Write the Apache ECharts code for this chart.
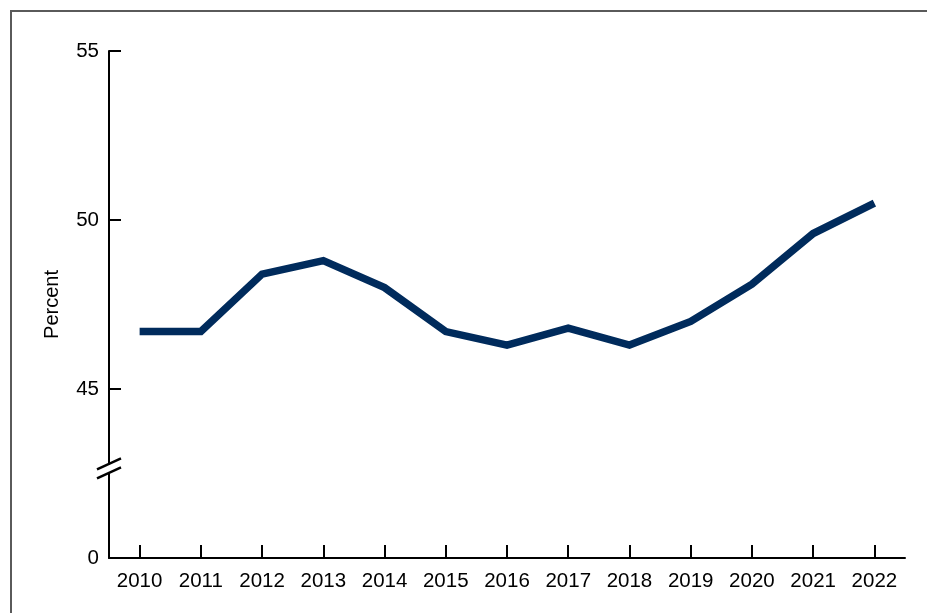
<!DOCTYPE html>
<html>
<head>
<meta charset="utf-8">
<script src="https://cdn.jsdelivr.net/npm/echarts@6/dist/echarts.min.js"></script>
<style>
html,body{margin:0;padding:0;background:#fff;}
#frame{position:absolute;left:10px;top:10px;width:930px;height:620px;border-left:2px solid #5a5a5a;border-top:2px solid #5a5a5a;}
#chart{position:absolute;left:0;top:0;width:927px;height:613px;}
</style>
</head>
<body>
<div id="frame"></div>
<div id="chart"></div>
<script>
const years = ['2010','2011','2012','2013','2014','2015','2016','2017','2018','2019','2020','2021','2022'];
const percent = [46.7, 46.7, 48.4, 48.8, 48.0, 46.7, 46.3, 46.8, 46.3, 47.0, 48.1, 49.6, 50.5];
const yTickLabels = {40: '0', 45: '45', 50: '50', 55: '55'};
const axisFloor = 40;   // value drawn where "0" sits (axis break below 45)
const breakAt = 42.65;

const chart = echarts.init(document.getElementById('chart'), null, {renderer: 'canvas'});
const font = '"Liberation Sans", Arial, sans-serif';
chart.setOption({
  animation: false,
  backgroundColor: 'transparent',
  grid: {left: 109, right: 22, top: 51, bottom: 55, containLabel: false},
  xAxis: {
    type: 'category',
    data: years,
    boundaryGap: true,
    axisLine: {show: true, lineStyle: {color: '#000', width: 2}},
    axisTick: {show: true, inside: true, length: 13, alignWithLabel: true, interval: 0, lineStyle: {color: '#000', width: 2}},
    axisLabel: {color: '#000', fontSize: 20.5, fontFamily: font, margin: 13, interval: 0}
  },
  yAxis: {
    type: 'value',
    min: axisFloor, max: 55, interval: 5,
    name: 'Percent',
    nameLocation: 'middle',
    nameGap: 47,
    nameRotate: 90,
    nameTextStyle: {color: '#000', fontSize: 20, fontFamily: font},
    axisLine: {show: true, lineStyle: {color: '#000', width: 2}},
    axisTick: {show: true, inside: true, length: 12, lineStyle: {color: '#000', width: 2}},
    splitLine: {show: false},
    axisLabel: {color: '#000', fontSize: 20.5, fontFamily: font, margin: 10,
      formatter: v => yTickLabels[v] !== undefined ? yTickLabels[v] : ''}
  },
  series: [{
    type: 'line',
    data: percent,
    symbol: 'none',
    lineStyle: {color: '#002b5c', width: 7.5, cap: 'butt', join: 'miter'}
  }]
});

const p0 = chart.convertToPixel({gridIndex: 0}, [0, breakAt]);
const p1 = chart.convertToPixel({gridIndex: 0}, [1, breakAt]);
const axisX = p0[0] - (p1[0] - p0[0]) / 2;
const cy = p0[1];
chart.setOption({
  graphic: [
    {type: 'rect', shape: {x: axisX - 3, y: cy - 4, width: 6, height: 8}, style: {fill: '#fff'}, z: 100},
    {type: 'line', shape: {x1: axisX - 12, y1: cy + 1, x2: axisX + 12, y2: cy - 10}, style: {stroke: '#000', lineWidth: 2.5}, z: 101},
    {type: 'line', shape: {x1: axisX - 12, y1: cy + 10, x2: axisX + 12, y2: cy - 1}, style: {stroke: '#000', lineWidth: 2.5}, z: 101}
  ]
});
</script>
</body>
</html>
